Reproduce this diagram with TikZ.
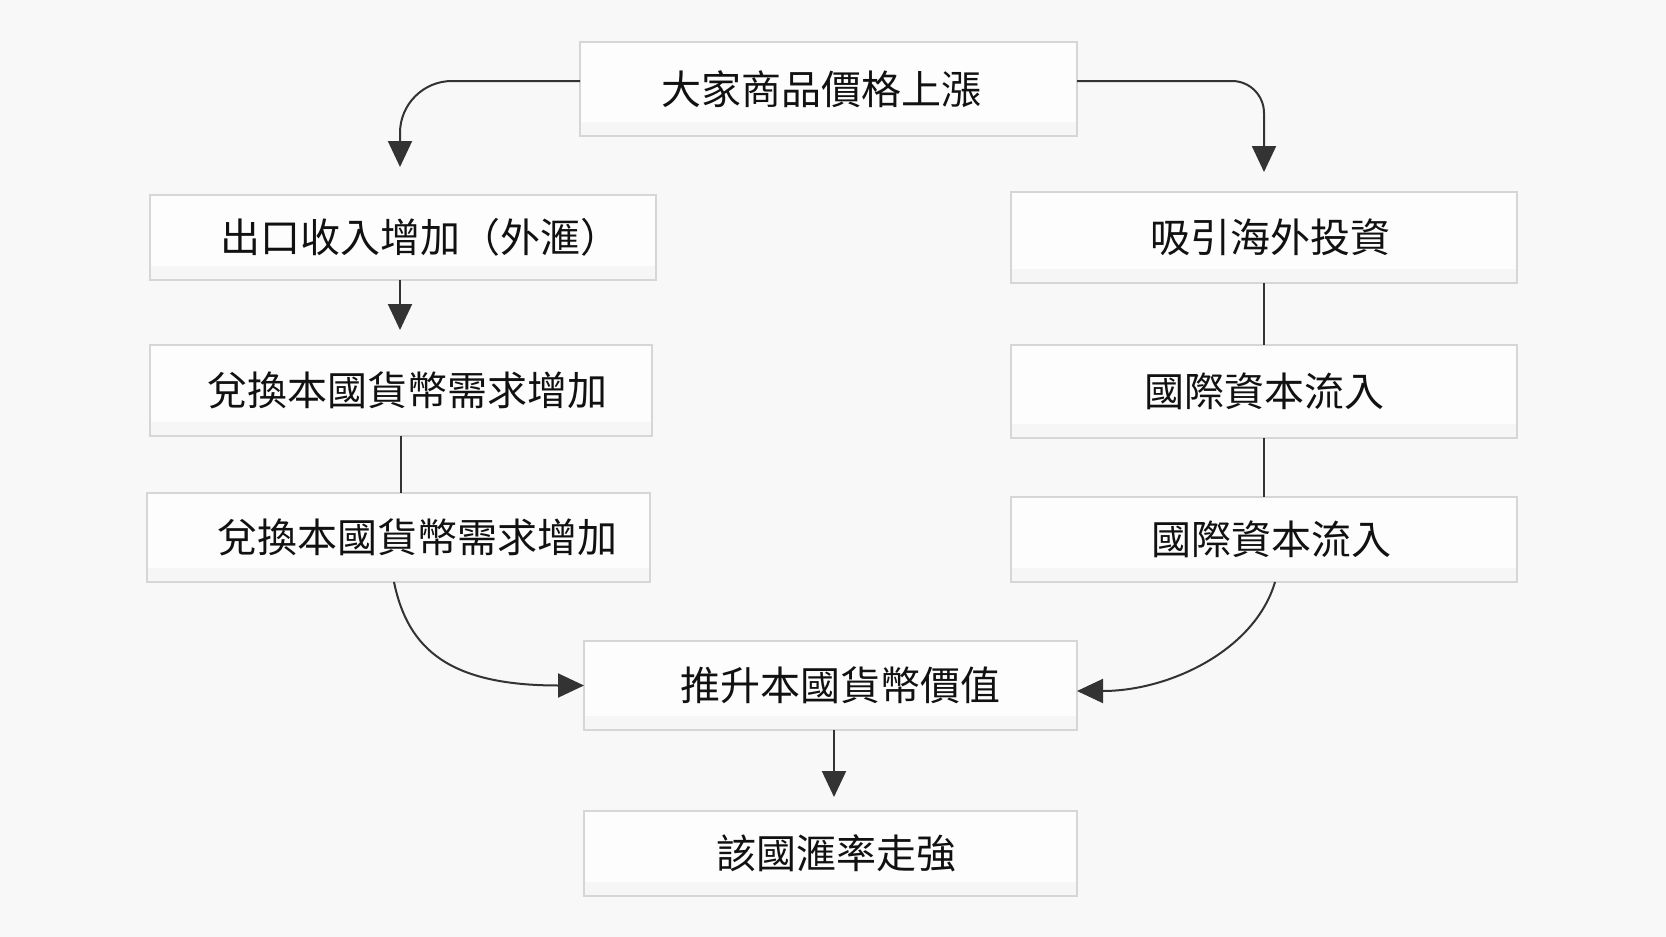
\documentclass[tikz,border=0pt]{standalone}
\usepackage{fontspec}
\newfontfamily\cjk{Noto Sans CJK TC}
\usetikzlibrary{arrows.meta}
\definecolor{bg}{HTML}{F8F8F8}
\definecolor{boxfill}{HTML}{FDFDFD}
\definecolor{boxline}{HTML}{D6D6D6}
\definecolor{arrowc}{HTML}{333333}
\definecolor{txt}{HTML}{111111}
\begin{document}
\begin{tikzpicture}[x=0.5pt,y=-0.5pt,
  box/.style={draw=boxline, line width=0.6pt, fill=boxfill, inner sep=0pt, outer sep=0pt,
    font=\cjk\fontsize{20pt}{24pt}\selectfont, text=txt,
    path picture={\fill[gray!7] (path picture bounding box.south west) rectangle ([yshift=7pt]path picture bounding box.south east);}},
  conn/.style={draw=arrowc, line width=1pt},
  arr/.style={conn, -{Triangle[length=13pt,width=12pt]}},
]
\fill[bg] (0,0) rectangle (1666,937);
\useasboundingbox (0,0) rectangle (1666,937);

\node[box, minimum width=248.5pt, minimum height=47pt] (top) at (828.5,89) {大家商品價格上漲\hspace*{7pt}};
\node[box, minimum width=253pt, minimum height=42.5pt] (L1) at (403,237.5) {\hspace*{17pt}出口收入增加（外滙）};
\node[box, minimum width=251pt, minimum height=45.5pt] (L2) at (401,390.5) {\hspace*{6pt}兌換本國貨幣需求增加};
\node[box, minimum width=251.5pt, minimum height=44.5pt] (L3) at (398.5,537.5) {\hspace*{19pt}兌換本國貨幣需求增加};
\node[box, minimum width=253pt, minimum height=45.5pt] (R1) at (1264,237.5) {\hspace*{6pt}吸引海外投資};
\node[box, minimum width=253pt, minimum height=46.5pt] (R2) at (1264,391.5) {國際資本流入};
\node[box, minimum width=253pt, minimum height=42.5pt] (R3) at (1264,539.5) {\hspace*{7pt}國際資本流入};
\node[box, minimum width=246.5pt, minimum height=44.5pt] (M) at (830.5,685.5) {\hspace*{10pt}推升本國貨幣價值};
\node[box, minimum width=246.5pt, minimum height=42.5pt] (B) at (830.5,853.5) {\hspace*{5.5pt}該國滙率走強};

\draw[arr, rounded corners=26pt, shorten >=14pt] ([yshift=4pt]top.west) -| ([xshift=-1.5pt]L1.north);
\draw[arr, rounded corners=16pt, shorten >=10pt] ([yshift=4pt]top.east) -| (R1.north);
\draw[arr, shorten >=7.5pt] ([xshift=-1.5pt]L1.south) -- ([xshift=-1.5pt]L1.south |- L2.north);
\draw[conn] (L2.south) -- (L2.south |- L3.north);
\draw[conn] (R1.south) -- (R2.north);
\draw[conn] (R2.south) -- (R3.north);
\draw[arr] ([xshift=-2.25pt]L3.south) .. controls (408,650) and (450,685.5) .. (M.west);
\draw[arr] ([xshift=5.5pt]R3.south) .. controls (1255,650) and (1170,691) .. ([yshift=-2.75pt]M.east);
\draw[arr, shorten >=7pt] ([xshift=1.75pt]M.south) -- ([xshift=1.75pt]B.north);
\end{tikzpicture}
\end{document}
